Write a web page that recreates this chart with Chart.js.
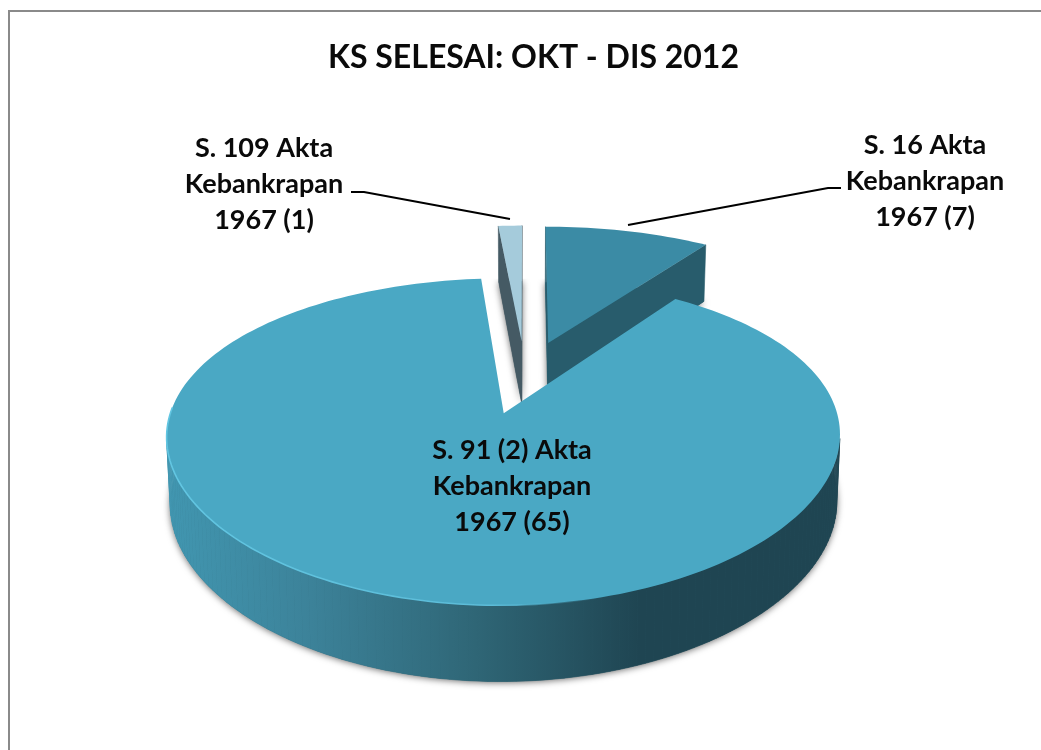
<!DOCTYPE html>
<html>
<head>
<meta charset="utf-8">
<title>KS SELESAI</title>
<script src="https://cdn.jsdelivr.net/npm/chart.js@4"></script>
<style>
    html, body { margin: 0; padding: 0; background: #fff; overflow: hidden; }
    #frame { position: absolute; left: 8px; top: 10px; width: 1047px; height: 780px; border: 2px solid #8a8a8a; }
    #pie { display: block; }
</style>
</head>
<body>
<div id="frame"><canvas id="pie" width="1047" height="780"></canvas></div>
<script>
const chartTitle = 'KS SELESAI: OKT - DIS 2012';
const categories = ['S. 16 Akta Kebankrapan 1967', 'S. 91 (2) Akta Kebankrapan 1967', 'S. 109 Akta Kebankrapan 1967'];
const values = [7, 65, 1];
const labelLines = [
    ['S. 16 Akta', 'Kebankrapan', '1967 (7)'],
    ['S. 91 (2) Akta', 'Kebankrapan', '1967 (65)'],
    ['S. 109 Akta', 'Kebankrapan', '1967 (1)']
];
const topColors = ['#3b8ba5', '#4aa8c4', '#a5cbdb'];
const wallColors = ['#285c6c', '#285c6c', '#455a64'];

// page coordinates of the label text and the leader lines
const labelCenters = [[925, 145], [512, 450], [264, 148]];
const leaders = [
    [[841, 188], [828, 188], [628, 225]],
    null,
    [[351, 192], [364, 192], [510, 219]]
];

// the view of the tilted pie: a plane (u, v) seen in perspective
const view = { ax: 525, ay: 376.5, A: 322.5, B: 146, p: 0.1673, px: 0.135, depth: 64, shrink: 0.99 };
const drawOrder = [2, 0, 1];

function project(u, v, low) {
    const s = 1 / (1 - view.p * v);
    const sx = 1 / (1 - view.px * v);
    if (!low) return [view.ax + view.A * u * sx, view.ay + view.B * v * s];
    return [view.ax + view.A * u * sx * view.shrink, view.ay + view.B * v * s + view.depth * Math.pow(s, 0.75)];
}

function tracePoly(ctx, pts) {
    ctx.beginPath();
    pts.forEach((p, i) => i ? ctx.lineTo(p[0], p[1]) : ctx.moveTo(p[0], p[1]));
    ctx.closePath();
}

function polyArea(pts) {
    let a = 0;
    pts.forEach((p, i) => {
        const q = pts[(i + 1) % pts.length];
        a += p[0] * q[1] - q[0] * p[1];
    });
    return a / 2;
}

function fillFace(ctx, pts, color) {
    tracePoly(ctx, pts);
    ctx.fillStyle = color;
    ctx.strokeStyle = color;
    ctx.lineWidth = 0.6;
    ctx.fill();
    ctx.stroke();
}

// outline of one slice in the plane, from the library's arc element
function sliceShape(arc) {
    const r = arc.outerRadius;
    const mid = (arc.startAngle + arc.endAngle) / 2;
    const e = arc.options.offset / r;
    const cu = Math.cos(mid) * e;
    const cv = Math.sin(mid) * e;
    const rim = [];
    const steps = Math.max(6, Math.round((arc.endAngle - arc.startAngle) * 40));
    for (let i = 0; i <= steps; i++) {
        const a = arc.startAngle + (arc.endAngle - arc.startAngle) * i / steps;
        rim.push([cu + Math.cos(a), cv + Math.sin(a)]);
    }
    return { c: [cu, cv], rim: rim };
}

const pie3d = {
    id: 'pie3d',
    beforeDatasetsDraw(chart) {
        const ctx = chart.ctx;
        const arcs = chart.getDatasetMeta(0).data;
        const shapes = arcs.map(sliceShape);
        const box = chart.canvas.getBoundingClientRect();
        ctx.save();
        ctx.translate(-box.left, -box.top);

        const mainTop = Math.min(...shapes[1].rim.map(q => project(q[0], q[1])[1]));
        const sideFill = ctx.createLinearGradient(170, 0, 640, 0);
        sideFill.addColorStop(0, '#4196b0');
        sideFill.addColorStop(0.3, '#3c8299');
        sideFill.addColorStop(0.65, '#2f6676');
        sideFill.addColorStop(1, '#1f4552');

        drawOrder.forEach(i => {
            const shape = shapes[i];
            const lowPts = [shape.c].concat(shape.rim).map(q => project(q[0], q[1], true));

            // soft shadow of the slice, only below the top of the big slice
            ctx.save();
            ctx.beginPath();
            ctx.rect(0, mainTop, chart.width + 40, chart.height);
            ctx.clip();
            ctx.shadowColor = 'rgba(0,0,0,0.6)';
            ctx.shadowBlur = 7;
            ctx.shadowOffsetY = 1;
            tracePoly(ctx, lowPts);
            ctx.fillStyle = wallColors[i];
            ctx.fill();
            ctx.restore();

            // walls facing the viewer
            const first = shape.rim[0];
            const last = shape.rim[shape.rim.length - 1];
            [[shape.c, first], [last, shape.c]].forEach(seg => {
                const quad = [project(seg[0][0], seg[0][1]), project(seg[1][0], seg[1][1]),
                    project(seg[1][0], seg[1][1], true), project(seg[0][0], seg[0][1], true)];
                if (polyArea(quad) < 0) fillFace(ctx, quad, wallColors[i]);
            });
            for (let k = 0; k < shape.rim.length - 1; k++) {
                const a = shape.rim[k], b = shape.rim[k + 1];
                const quad = [project(a[0], a[1]), project(b[0], b[1]), project(b[0], b[1], true), project(a[0], a[1], true)];
                if (polyArea(quad) < 0) fillFace(ctx, quad, i === 1 ? sideFill : wallColors[i]);
            }

            // top face
            const topPts = [shape.c].concat(shape.rim).map(q => project(q[0], q[1]));
            tracePoly(ctx, topPts);
            ctx.fillStyle = topColors[i];
            ctx.fill();

            if (i === 1) {
                // light bevel along the front left rim only
                const glow = ctx.createLinearGradient(170, 0, 600, 0);
                glow.addColorStop(0, '#62c6e2');
                glow.addColorStop(0.75, '#5cbcd8');
                glow.addColorStop(1, 'rgba(74,168,196,0)');
                ctx.beginPath();
                let started = false;
                shape.rim.forEach(q => {
                    if (q[1] < 0.2) return;
                    const p = project(q[0], q[1]);
                    started ? ctx.lineTo(p[0], p[1]) : ctx.moveTo(p[0], p[1]);
                    started = true;
                });
                ctx.strokeStyle = glow;
                ctx.lineWidth = 1.6;
                ctx.stroke();
            }
        });

        // leader lines and labels
        ctx.strokeStyle = '#000';
        ctx.lineWidth = 2;
        leaders.forEach(line => {
            if (!line) return;
            ctx.beginPath();
            line.forEach((p, k) => k ? ctx.lineTo(p[0], p[1]) : ctx.moveTo(p[0], p[1]));
            ctx.stroke();
        });
        ctx.fillStyle = '#0a0a0a';
        ctx.font = 'bold 27px Lato';
        ctx.textAlign = 'center';
        ctx.textBaseline = 'middle';
        labelLines.forEach((lines, i) => {
            lines.forEach((txt, k) => ctx.fillText(txt, labelCenters[i][0], labelCenters[i][1] + k * 36));
        });
        ctx.restore();
        return false;
    }
};

new Chart(document.getElementById('pie'), {
    type: 'pie',
    data: {
        labels: categories,
        datasets: [{
            data: values,
            backgroundColor: topColors,
            borderWidth: 0,
            hoverOffset: 0,
            offset: 65
        }]
    },
    options: {
        responsive: false,
        animation: false,
        radius: 260,
        plugins: {
            legend: { display: false },
            tooltip: { enabled: false },
            title: {
                display: true,
                text: chartTitle,
                color: '#0a0a0a',
                font: { family: 'Lato', size: 32, weight: 'bold' },
                padding: { top: 26, bottom: 10 }
            }
        }
    },
    plugins: [pie3d]
});
</script>
</body>
</html>
